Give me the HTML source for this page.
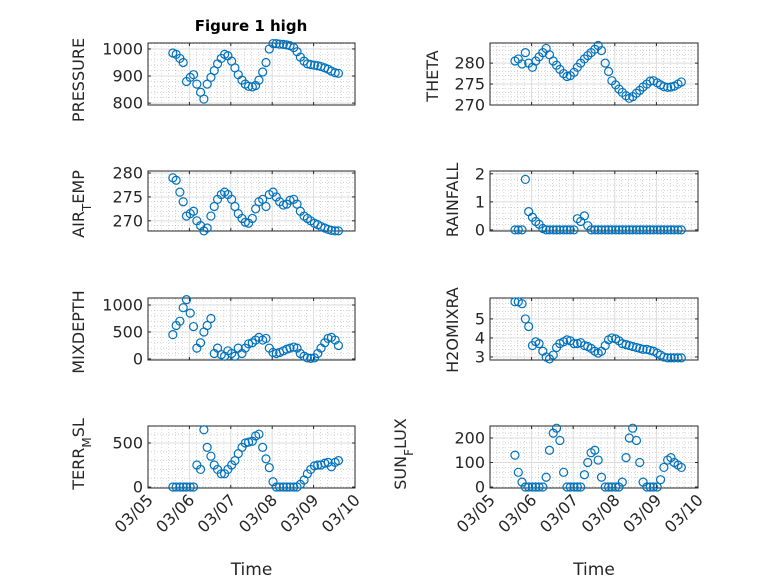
<!DOCTYPE html>
<html><head><meta charset="utf-8"><style>
html,body{margin:0;padding:0;background:#fff;}
svg{display:block;font-family:"DejaVu Sans","Liberation Sans",sans-serif;}
</style></head><body>
<svg id="fig" width="778" height="583" viewBox="0 0 778 583" xmlns="http://www.w3.org/2000/svg">
<text x="251" y="31" text-anchor="middle" font-size="15" font-weight="bold" fill="#000">Figure 1 high</text>
</svg>
<script>
const days = [0.6,0.68,0.77,0.85,0.93,1.02,1.1,1.18,1.27,1.35,1.43,1.52,1.6,1.68,1.77,1.85,1.93,2.02,2.1,2.18,2.27,2.35,2.43,2.52,2.6,2.68,2.77,2.85,2.93,3.02,3.1,3.18,3.27,3.35,3.43,3.52,3.6,3.68,3.77,3.85,3.93,4.02,4.1,4.18,4.27,4.35,4.43,4.52,4.6];
const xTickLabels = ["03/05","03/06","03/07","03/08","03/09","03/10"];
const pressure = [985,980,965,950,880,895,905,870,840,815,870,895,920,945,965,980,975,955,930,905,885,870,862,860,865,885,915,950,1000,1020,1020,1018,1017,1015,1012,1005,990,970,955,945,942,940,938,935,930,925,918,912,910];
const airTemp = [279,278.5,276,274,271,271.5,272,270,269,267.9,268.5,271,273,274.5,275.5,276,275.5,274.5,273,271.5,270.5,269.7,269.5,270.5,272.5,274,274.5,273,275.5,276,275,274,273.3,273.5,274.3,274.5,273.5,272,271,270.5,270,269.5,269.2,268.8,268.5,268.2,268,267.9,267.9];
const mixDepth = [450,620,700,950,1100,850,600,200,300,500,620,750,100,200,80,50,150,100,50,200,100,200,280,300,350,400,350,380,200,120,100,120,150,180,200,220,200,100,50,20,10,20,100,200,300,380,400,350,250];
const terrMsl = [0,0,0,0,0,0,0,250,200,650,450,350,250,200,150,150,200,250,300,380,450,500,510,520,580,600,450,320,220,60,0,0,0,0,0,0,0,30,80,150,200,240,250,250,270,280,230,280,300];
const theta = [280.5,281,279.8,282.5,280,279,280.5,281.5,282.5,283.5,282,280.5,279.5,278.5,277.5,276.8,277,277.8,279,280,281,281.8,282.5,283.3,284.2,283,280,278,275.8,274.8,273.8,273,272.2,271.6,272,272.8,273.5,274.3,275,275.7,275.8,275.3,274.8,274.4,274.2,274.3,274.5,275,275.5];
const rainfall = [0,0,0,1.8,0.65,0.45,0.3,0.2,0.05,0,0,0,0,0,0,0,0,0,0.4,0.3,0.5,0.15,0,0,0,0,0,0,0,0,0,0,0,0,0,0,0,0,0,0,0,0,0,0,0,0,0,0,0];
const h2oMix = [5.9,5.9,5.8,5.0,4.6,3.6,3.8,3.7,3.3,3.0,2.9,3.1,3.5,3.7,3.8,3.9,3.85,3.7,3.7,3.75,3.6,3.55,3.45,3.3,3.2,3.3,3.6,3.9,4.0,3.95,3.85,3.7,3.65,3.6,3.55,3.5,3.45,3.4,3.4,3.35,3.3,3.2,3.1,3.0,2.95,2.95,2.95,2.95,2.95];
const sunFlux = [130,60,20,0,0,0,0,0,0,40,150,220,240,190,60,0,0,0,0,0,50,100,140,150,110,40,0,0,0,0,0,20,120,200,240,190,100,20,0,0,0,0,30,80,110,120,100,90,80];
const pressureTicks = [800,900,1000];
const airTempTicks = [270,275,280];
const mixDepthTicks = [0,500,1000];
const terrMslTicks = [0,500];
const thetaTicks = [270,275,280];
const rainfallTicks = [0,1,2];
const h2oTicks = [3,4,5];
const sunTicks = [0,100,200];

const NS="http://www.w3.org/2000/svg";
const svg=document.getElementById('fig');
function mk(tag,attrs,parent){const e=document.createElementNS(NS,tag);for(const k in attrs)e.setAttribute(k,attrs[k]);(parent||svg).appendChild(e);return e;}

function panel(name,x0,x1,y0,y1,ymin,ymax,ticks,vals,labelParts,labX,labY,showX){
  const g=mk('g',{});
  
  
  const sx=d=>x0+(d-0)/(5-0)*(x1-x0);
  const sy=v=>y1-(v-ymin)/(ymax-ymin)*(y1-y0);
  for(let k=0;k<=30;k++){const d=k/6; if(k%6===0)continue; mk('line',{x1:sx(d),x2:sx(d),y1:y0,y2:y1,stroke:'#bbb','stroke-width':0.6,'stroke-dasharray':'1,2'},g);}
  const step=ticks[1]-ticks[0];
  for(let v=ticks[0]-step;v<=ymax;v+=step/5){ if(v<ymin||v>ymax)continue; mk('line',{x1:x0,x2:x1,y1:sy(v),y2:sy(v),stroke:'#bbb','stroke-width':0.6,'stroke-dasharray':'1,2'},g);}
  for(let k=1;k<5;k++) mk('line',{x1:sx(k),x2:sx(k),y1:y0,y2:y1,stroke:'#dcdcdc','stroke-width':1},g);
  ticks.forEach(v=>{const yy=sy(v); if(yy>y0+1&&yy<y1-1) mk('line',{x1:x0,x2:x1,y1:yy,y2:yy,stroke:'#dcdcdc','stroke-width':1},g);});
  mk('rect',{x:x0,y:y0,width:x1-x0,height:y1-y0,fill:'none',stroke:'#262626','stroke-width':1},g);
  for(let k=0;k<=5;k++){mk('line',{x1:sx(k),x2:sx(k),y1:y1,y2:y1-3,stroke:'#262626'},g);mk('line',{x1:sx(k),x2:sx(k),y1:y0,y2:y0+3,stroke:'#262626'},g);}
  ticks.forEach(v=>{const yy=sy(v);
    mk('line',{x1:x0,x2:x0+3,y1:yy,y2:yy,stroke:'#262626'},g);
    mk('line',{x1:x1,x2:x1-3,y1:yy,y2:yy,stroke:'#262626'},g);
    const t=mk('text',{x:x0-5,y:yy+5.5,'text-anchor':'end','font-size':16,fill:'#262626'},g);
    
    
    t.textContent=String(v);
  });
  const yl=mk('text',{transform:`translate(${labX},${labY}) rotate(-90)`,'text-anchor':'middle','font-size':16,fill:'#262626'},g);
  
  
  labelParts.forEach(p=>{const ts=mk('tspan',{},yl); ts.textContent=p[0]; if(p[1]){ts.setAttribute('baseline-shift',p[1]);ts.setAttribute('font-size','12');}});
  days.forEach((d,i)=>{
    const c=mk('circle',{cx:sx(d),cy:sy(vals[i]),r:4,fill:'none',stroke:'#0072BD','stroke-width':1.2},g);
    
    
  });
  if(showX){
    xTickLabels.forEach((lab,k)=>{
      const t=mk('text',{transform:`translate(${sx(k)+6},${y1+13}) rotate(-45)`,'text-anchor':'end','font-size':16,fill:'#262626'},g);
      
      
      t.textContent=lab;
    });
    const xt=mk('text',{x:(x0+x1)/2,y:575,'text-anchor':'middle','font-size':17,fill:'#262626'},g);
    
    
    xt.textContent='Time';
  }
}
const L=[148,355], R=[490,698];
panel('pressure',L[0],L[1],43,105,793,1022,pressureTicks,pressure,[['PRESSURE']],84,80,false);
panel('theta',R[0],R[1],43,105,270,284.8,thetaTicks,theta,[['THETA']],438,76,false);
panel('air-temp',L[0],L[1],171,231,267.87,280.43,airTempTicks,airTemp,[['AIR'],['T','sub'],['EMP']],84,204,false);
panel('rainfall',R[0],R[1],171,231,-0.04,2.1,rainfallTicks,rainfall,[['RAINFALL']],458,200,false);
panel('mixdepth',L[0],L[1],298,360,-20,1130,mixDepthTicks,mixDepth,[['MIXDEPTH']],84,332,false);
panel('h2omixra',R[0],R[1],298,360,2.84,6.1,h2oTicks,h2oMix,[['H2OMIXRA']],458,330,false);
panel('terr-msl',L[0],L[1],426,488,-11,693,terrMslTicks,terrMsl,[['TERR'],['M','sub'],['SL']],84,454,true);
panel('sun-flux',R[0],R[1],426,488,-4,249,sunTicks,sunFlux,[['SUN'],['F','sub'],['LUX']],406,454,true);
</script>
</body></html>
